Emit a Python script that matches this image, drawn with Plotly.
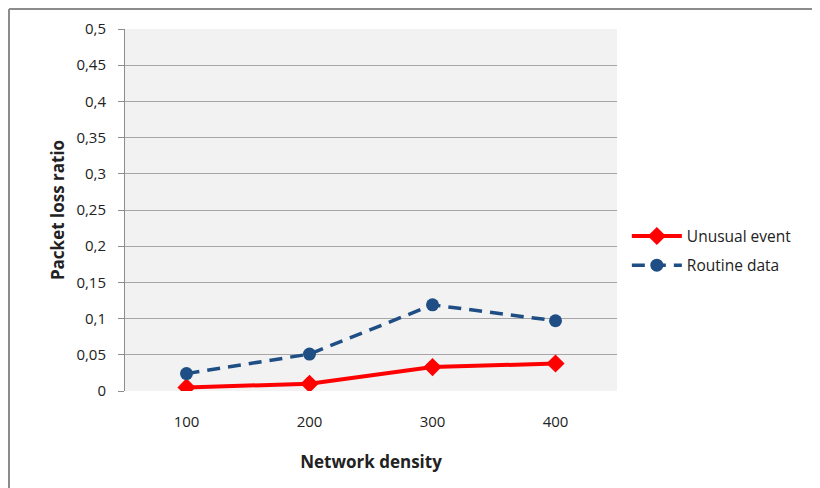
import plotly.graph_objects as go

categories = ["100", "200", "300", "400"]
unusual_event = [0.005, 0.010, 0.033, 0.038]
routine_data = [0.024, 0.051, 0.119, 0.097]
y_ticks = [0, 0.05, 0.1, 0.15, 0.2, 0.25, 0.3, 0.35, 0.4, 0.45, 0.5]
y_tick_labels = ["0", "0,05", "0,1", "0,15", "0,2", "0,25", "0,3", "0,35", "0,4", "0,45", "0,5"]

# page body has an 8px margin, so the figure is 812x480 drawn at (8,8)
W, H = 812, 480
L, R, T, B = 117, 203, 21, 97
pw, ph = W - L - R, H - T - B

fig = go.Figure()
fig.add_trace(go.Scatter(
    x=categories, y=unusual_event, name="Unusual event", mode="lines+markers",
    legendgroup="a",
    line=dict(color="#ff0000", width=4),
    marker=dict(symbol="diamond", size=14, color="#ff0000"),
))
fig.add_trace(go.Scatter(
    x=categories, y=routine_data, name="Routine data", mode="lines+markers",
    legendgroup="b",
    line=dict(color="#1f4e85", width=3.5, dash="13px,8px"),
    marker=dict(symbol="circle", size=13, color="#1f4e85"),
))

font = "Open Sans, Liberation Sans, sans-serif"
fig.update_layout(
    width=W, height=H,
    margin=dict(l=L, r=R, t=T, b=B, autoexpand=False),
    paper_bgcolor="white",
    plot_bgcolor="#f2f2f2",
    font=dict(family=font, size=15, color="#222"),
    showlegend=True,
    legend=dict(x=1.02, y=0.387, xanchor="left", yanchor="middle",
                font=dict(size=15.5, color="#222"), bgcolor="rgba(0,0,0,0)",
                traceorder="grouped", tracegroupgap=6, itemwidth=50),
    xaxis=dict(type="category", range=[-0.5, 3.5], showgrid=False,
               showline=False, ticks="", ticklabelstandoff=20,
               tickfont=dict(size=15),
               title=dict(text="<b>Network density</b>", font=dict(size=17), standoff=26)),
    yaxis=dict(range=[0, 0.5], tickvals=y_ticks, ticktext=y_tick_labels,
               showgrid=True, gridcolor="#a6a6a6", gridwidth=1,
               showline=True, linecolor="#8c8c8c", linewidth=1,
               ticks="outside", ticklen=6, tickcolor="#8c8c8c",
               ticklabelstandoff=9, zeroline=False,
               tickfont=dict(size=15),
               title=dict(text="<b>Packet loss ratio</b>", font=dict(size=17), standoff=7)),
)

top_y = (T + ph - 1) / ph
left_x = (1 - L) / pw
fig.add_shape(type="line", xref="paper", yref="paper",
              x0=left_x, x1=(W - L) / pw, y0=top_y, y1=top_y,
              line=dict(color="#8c8c8c", width=2), layer="below")
fig.add_shape(type="line", xref="paper", yref="paper",
              x0=left_x, x1=left_x, y0=top_y, y1=-(H - T - ph) / ph,
              line=dict(color="#8c8c8c", width=2), layer="below")

fig.write_html("out.html")
